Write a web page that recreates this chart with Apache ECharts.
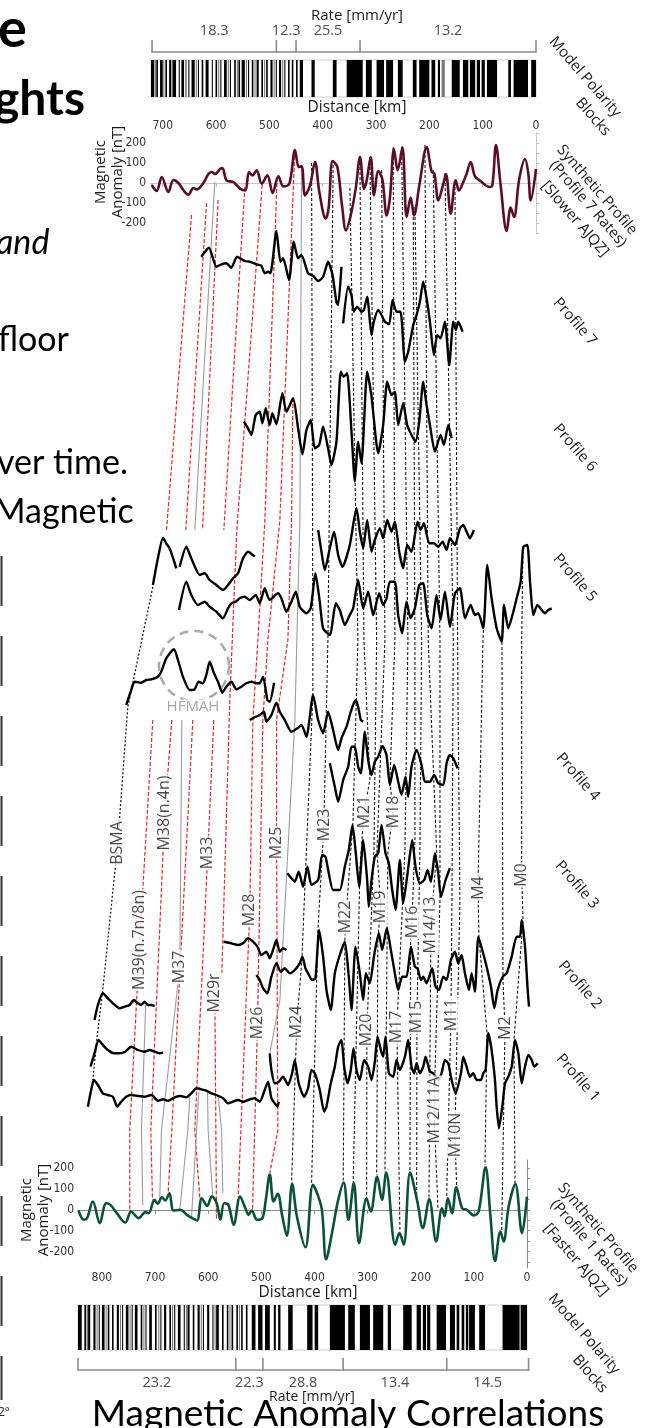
<!DOCTYPE html>
<html><head><meta charset="utf-8">
<script src="https://cdn.jsdelivr.net/npm/echarts@6/dist/echarts.min.js"></script>
<style>html,body{margin:0;padding:0;background:#fff}#c{width:646px;height:1428px}</style>
</head><body><div id="c"></div>
<script>
// ---------------- DATA ----------------
const anomalyTicks = [-200,-100,0,100,200];
const topRateBounds = [720, 487, 450, 330, 0];
const topRates = ['18.3','12.3','25.5','13.2'];
const bottomRateBounds = [845, 548, 497, 346, 151, -3];
const bottomRates = ['23.2','22.3','28.8','13.4','14.5'];

// polarity blocks [startKm, endKm, gray?]
const topBlocks = [[0,9,0],[15,42,0],[47,52,0],[73,92,0],[96,102,0],[105,111,0],[114,124,0],[127,137,0],[143,158,0],[171,177,1],[180,184,0],[189,196,0],[200,219,0],[224,231,0],[250,259,0],[268,281,0],[285,299,0],[308,319,0],[325,355,0],[374,381,0],[415,421,0],[437,443,0],[447,450,0]];
const topDense = [[716,722,0],[712,715,1],[709,712,0],[700,705,0],[697,699,1],[692,695,0],[684,688,0],[680,683,1],[675,681,0],[668,670,0],[660,665,0],[655,658,1],[650,652,0],[640,646,0],[636,638,1],[632,634,0],[624,627,0],[617,620,1],[614,619,0],[606,608,0],[598,601,0],[594,596,1],[590,592,0],[580,585,0],[576,578,1],[572,574,0],[563,566,0],[559,561,1],[555,558,0],[546,552,0],[542,544,1],[538,540,0],[530,533,0],[526,528,1],[520,524,0],[512,515,0],[508,510,1],[503,506,0],[494,498,0],[490,492,1],[486,488,0],[478,482,0],[474,476,1],[470,472,0],[462,465,0],[455,458,0]];
const bottomBlocks = [[0,12,0],[14,46,0],[79,90,0],[98,109,0],[110.5,115,0],[118,123,0],[127.5,132.4,0],[135.6,145,0],[152.5,170,0],[182,188,0],[190,196,0],[199.6,207.7,0],[217,233,0],[256,262,0],[270.6,289.5,0],[295.6,314.5,0],[324,336.5,0],[342.7,371,0],[393,399.6,0],[403.6,413.7,0],[441,449.5,0],[464,468.4,0],[472.7,476.5,0],[484,493,0],[497.8,506,0],[511,518,0]];
const bottomDense = [[838,845,0],[830,833,0],[826,829,1],[822,826,0],[812,816,0],[808,810,1],[804,806,0],[795,800,0],[791,793,1],[786,789,0],[778,781,0],[768,772,0],[764,766,1],[760,762,0],[750,755,0],[746,748,1],[742,744,0],[733,738,0],[724,727,0],[720,722,1],[716,718,0],[706,711,0],[697,700,0],[692,694,1],[688,690,0],[679,683,0],[670,673,0],[666,668,1],[662,664,0],[652,657,0],[644,646,0],[640,642,1],[635,639,0],[626,629,0],[616,620,0],[612,614,1],[608,610,0],[598,602,0],[590,592,0],[586,588,1],[580,585,0],[571,574,0],[562,565,0],[558,560,1],[553,556,0],[544,547,0],[540,542,1],[535,538,0],[526,529,0]];

// synthetic profiles [km, nT]
const synthTop = [[720.6,-10],[711.3,-40],[701.9,30],[689.4,-45],[680,15],[670.6,0],[660,-40],[651.9,-58],[642.5,-25],[636.3,-32],[623.8,0],[614.4,45],[608.1,55],[601.9,45],[592.5,70],[588.1,75],[580,12],[567.5,5],[555,-28],[545.6,-37],[538.1,55],[531.9,38],[523.8,63],[514.4,-3],[503.8,38],[493.8,-50],[483.1,33],[473.8,-17],[462.5,-3],[451.9,165],[445,80],[439.4,83],[433.1,-62],[423.8,-12],[414.4,105],[406.3,-45],[394.4,-178],[388.8,-123],[381.3,110],[372.5,80],[363.8,-112],[356.3,-237],[347.5,-162],[338.1,-28],[330,130],[322.5,-28],[317.5,13],[310,130],[303.8,-62],[295.6,60],[288.1,17],[280,-162],[273.8,-70],[266.3,170],[259.4,63],[250.6,178],[242.5,-170],[235,-73],[228.8,-162],[218.8,-12],[205,178],[195.6,55],[190.6,47],[183.1,-87],[173.8,-3],[168.8,45],[160,-153],[150.6,13],[144.4,-37],[136.3,5],[130,47],[122.5,105],[114.4,33],[103.8,10],[87.5,-20],[81.9,-12],[75,190],[66.3,-12],[55,-240],[47.5,-123],[41.3,-170],[31.3,22],[20.6,120],[14.4,47],[10,-87],[0,70]];
const synthBottom = [[844,-3],[834,-48],[828,-40],[817,40],[804,-64],[792,32],[784,24],[772,-16],[756,-61],[745,-8],[731,-40],[718,-11],[712,-16],[701,48],[695,29],[687,61],[681,45],[673,80],[665,-3],[652,0],[640,-24],[630,-40],[621,-51],[612,56],[602,19],[593,64],[584,32],[577,-48],[570,32],[562,24],[552,-72],[540,64],[530,8],[524,-24],[518,-3],[508,-48],[498,-40],[492,40],[484,170],[477,40],[469,77],[461,-24],[452,-125],[442,125],[433,-32],[417,-180],[403,120],[395,80],[386,0],[378,-238],[367,-112],[356,40],[345,132],[336,-48],[326,130],[316,-160],[302,56],[294,-8],[282,160],[273,48],[265,180],[248,-168],[240,-112],[232,-168],[220,180],[207,48],[196,-88],[184,51],[171,-152],[160,8],[155,-32],[149,56],[141,-16],[133,108],[122,8],[113,0],[100,-27],[91,-8],[78,205],[69,-24],[60,-246],[50,-104],[44,-152],[34.5,16],[22,124],[9.4,-112],[0,64]];

// observed profile traces in the stacked panel [km (lower distance scale), stack position]
const profile7a = [[613,256.7],[598.5,247.7],[584.7,266.7],[575,264.3],[565.8,263.3],[556.4,267.7],[545.7,256.7],[531.3,261],[521.9,261.7],[509.3,264.3],[499.9,265.7],[493.6,273.3],[487.3,271.7],[482.9,273.3],[471.6,231],[464.1,261.7],[459,258.3],[447.8,280],[439,241.7],[430.8,258.3],[424.5,255],[412,273.3],[402.5,275.7],[393,281],[383.7,276.7],[374.3,261.7],[366,275],[358.6,302.3],[355.4,305],[349.2,266.7]];
const profile7b = [[346,323.3],[336.6,286.7],[330.3,295],[326,311.7],[319.7,306.7],[311.5,311.7],[307,310],[300.8,296.7],[292.6,335],[288.3,321.7],[280,310],[273.8,315],[267.5,321.7],[259.4,324.3],[253,300],[245.5,311.7],[238,311.7],[229.8,361.7],[223.6,351.7],[214,325],[207.9,315],[201.6,301.7],[195.3,281.7],[189,298.3],[182.7,321.7],[175.2,355],[169,335],[162.7,338.3],[154.5,321.7],[146.3,365],[138.8,321.7],[133.8,330],[129.4,321.7],[121.2,331.7]];
const profile6 = [[533,421.7],[525,428.3],[518.7,435],[510.6,415],[503,411.7],[498,423.3],[491.7,408.3],[484.2,425],[479.2,413.3],[471.6,424.3],[460.3,393.3],[452.8,411.7],[440.2,398.3],[430.8,428.3],[422.6,454.3],[415.1,430],[407,420],[399.4,448.3],[391.2,445],[383.7,426.7],[374.3,448.3],[368,465],[358.6,441.7],[350.4,371.7],[344.8,376.7],[338.5,373.3],[330.3,431.7],[324,481.7],[317.8,441.7],[311.5,463.3],[300.8,371.7],[292.6,396.7],[280,453.3],[270.7,425],[263.1,381.7],[255,395],[248.7,391.7],[242.4,425],[233,403.3],[225.5,425],[217.3,435],[209.8,441.7],[202.8,421.7],[195.3,381.7],[189,405],[182.7,425],[173.3,451.7],[162.7,435],[156.4,445],[148.2,425],[141.9,438.3]];
const profile5a = [[393,530],[386.8,551.7],[380.6,570],[371.1,548.3],[363,531.7],[355.4,555],[347.3,566.7],[333.5,545],[320.9,508.3],[314.6,531.7],[308.3,548.3],[300.8,520],[292.6,551.7],[286.4,540],[277,528.3],[270.7,538.3],[263.1,520],[255,531.7],[248.7,521.7],[240.5,551.7],[233,568.3],[225.5,545],[217.3,551.7],[206,521.7],[200.3,530],[194,523.3],[184,543.3],[175.2,543.3],[167,546.7],[158.9,541.7],[151.3,550],[145,538.3],[135.6,545],[126.2,528.3],[120,525],[113.7,531.7],[107.4,538.3],[99.9,530]];
const profile5b1 = [[704,585],[694.6,558.3],[685,537.7],[679,543.3],[672.6,548.3],[660,568.3]];
const profile5b2 = [[653.7,566.7],[641.2,546.7],[631.8,558.3],[616,575],[606.6,573.3],[597.2,580],[584.7,585],[572.1,590],[562.7,585],[553.3,578.3],[543.8,573.3],[534.4,558.3],[525,551.7],[512.4,556.7]];
const profile5c = [[655,610],[641.2,581.7],[631.8,595],[619.2,605],[606.6,601.7],[597.2,606.7],[584.7,611.7],[572.1,618.3],[562.7,608.3],[556.4,603.3],[548.2,601.7],[540.7,598.3],[531.3,596.7],[521.9,600],[510.6,595],[503,603.3],[493.6,588.3],[484.2,600],[468.5,593.3],[462.2,598.3],[452.8,611.7],[443.4,601.7],[435.2,591.7],[427.7,606.7],[415.1,613.3],[407,608.3],[398.2,573.3],[390,601.7],[383.7,628.3],[371.1,635],[359.8,603.3],[352.3,610],[342.9,625],[333.5,615],[327.2,608.3],[317.8,580],[308.3,608.3],[298.9,591.7],[289.5,615],[278.2,593.3],[270.7,605],[264.4,598.3],[258.1,581.7],[248.7,581.7],[242.4,615],[234.9,633.3],[226.7,601.7],[219.2,618.3],[211,608.3],[202.8,585],[195.3,583.3],[187.8,615],[179.6,628.3],[170.2,595],[162.7,620],[154.5,591.7],[145,626.7],[135.6,593.3],[126.2,588.3],[116.8,618.3],[106.1,605],[98,615],[91.7,613.3],[82.3,628.3],[74.7,565],[66.6,598.3],[57.1,628.3],[47.7,641.7],[43.3,605],[35.2,628.3],[25.7,611.7],[19.5,598.3],[11.9,581.7],[6.9,546.7],[-0.6,545],[-5.7,581.7],[-11.9,615],[-19.5,605],[-27.6,610],[-33.9,613.3],[-40.2,610],[-46.5,608.3]];
const profile4a = [[754.2,705],[744.8,690],[738.5,681.7],[726,682.7],[716.5,680],[707.1,679.3],[695.8,677.3],[688.3,671.7],[678.9,658.3],[664.4,649.3],[656.9,660],[647.5,676.7],[634.9,690],[625.5,689.3],[618,681.7],[609.8,683.3],[603.5,675],[597.2,661.7],[589,673.3],[581.5,681.7],[573.4,692.7],[565.8,686.7],[556.4,681.7],[547,689.3],[537.6,686.7],[528.1,683.3],[518.7,681.7],[509.3,683.3],[503,683.3],[496.7,676.7],[488.6,700],[484.2,701.7],[476,682.7]];
const profile4b = [[521.9,720],[512.4,717.3],[503,715],[494.9,711.7],[490.5,721.7],[481,715],[471.6,702.7],[465.3,711.7],[455.9,720],[443.4,731.7],[432.1,728.3],[424.5,725],[415.1,736.7],[402.5,695],[393.1,720],[383.7,733.3],[374.3,711.7],[364.9,730],[355.4,750],[349.2,738.3],[339.7,726.7],[331.6,711.7],[322.8,700],[317.8,706.7],[312.7,720],[308.3,721.7]];
const profile4c = [[371.1,763.3],[361.7,786.7],[355.4,801.7],[346,780],[336.6,766.7],[330.3,746.7],[324,746.7],[317.8,766.7],[312.7,773.3],[305.2,731.7],[298.9,760],[292.6,775],[286.4,761.7],[280.1,756.7],[271.9,746],[264.4,755],[258.1,785],[250,765],[242.4,781.7],[236.1,795],[228.6,776.7],[223.6,796.7],[217.3,766.7],[207.9,750],[198.4,765],[192.2,781.7],[182.7,781.7],[174.6,775],[167,783.3],[157.6,785],[151.3,763.3],[145.1,755],[138.8,758.3],[130.6,768.3]];
const profile3 = [[450.9,873.3],[443.4,878.3],[437.1,881.7],[429.6,871.7],[421.4,886.7],[413.2,866.7],[405.7,885],[393.1,880],[385.6,855],[379.3,856.7],[373,873.3],[364.9,890],[352.3,890],[342.9,866.7],[335.4,850],[328.4,825],[322.2,853.3],[315.9,886.7],[308.3,840],[300.8,880],[297.7,906.7],[292.6,880],[286.4,856.7],[280.1,853.3],[273.8,825],[266.3,853.3],[260,863.3],[253.7,890],[247.4,910],[239.3,860],[233,903.3],[224.8,873.3],[216,840],[209.8,866.7],[201.6,883.3],[193.4,880],[187.1,870],[180.9,881.7],[173.3,853.3],[167,873.3],[162,896.7],[153.2,880],[145.1,868.3]];
const profile2a = [[570.9,941.7],[556.4,943.3],[543.8,945],[534.4,943.3],[525,938.3],[515.6,941.7],[507.4,946.7],[499.9,955],[490.5,951.7],[484.2,958.3],[477.9,950],[471.6,940],[465.3,951.7],[459.1,948.3],[452.8,950]];
const profile2b = [[509.3,975],[503,980],[496.7,988.3],[488.6,993.3],[481,976.7],[471.6,963.3],[463.5,971.7],[455.9,968.3],[446.5,973.3],[437.1,970],[427.7,963.3],[422.6,956.7],[417,968.3],[412,973.3],[404.4,980],[398.2,978.3],[391.2,930],[383.7,956.7],[377.4,990],[369.3,1010],[361.7,973.3],[352.3,955],[342.9,941.7],[335.4,976.7],[330.3,1010],[322.8,946.7],[314.6,973.3],[308.3,1000],[303.3,973.3],[295.8,983.3],[287.6,955],[278.8,933.3],[272.6,950],[263.8,928.3],[256.2,950],[248.7,973.3],[242.4,990],[234.9,976.7],[226.7,976.7],[218.5,946.7],[211,966.7],[206,968.3],[199.7,980],[195.3,976.7],[189,983.3],[178.4,968.3],[172.1,986.7],[165.8,990],[157.6,976.7],[151.3,980],[143.2,960],[135.6,951.7],[129.4,963.3],[123.1,955],[116.8,973.3],[109.3,990],[104.2,973.3],[98,991.7],[91.7,936.7],[84.2,950],[76,966.7],[67.8,986.7],[61.5,1008.3],[55.3,990],[45.8,976.7],[38.3,973.3],[28.9,956.7],[19.5,936.7],[13.2,936.7],[10,920],[3.8,946.7],[-1.3,990],[-3.8,1006.7]];
const profile1a = [[813.9,1020],[807.6,1005],[798.2,993.3],[788.8,998.3],[779.3,1003.3],[766.8,1008.3],[757.4,1006.7],[748,1005],[739.8,1000],[732.2,1003.3],[726,1005],[719.7,1001.7],[713.4,1005],[707.1,1005],[700.8,1006]];
const profile1b = [[821.4,1066.7],[813.9,1053.3],[806.4,1040],[798.2,1045],[788.8,1050],[777.5,1053.3],[766.8,1053.3],[756.1,1051.7],[744.8,1046.7],[732.2,1050],[719.7,1051.7],[710.3,1050],[700.8,1051.7],[691.4,1053.3],[685.1,1052.7]];
const profile1c = [[826.4,1106.7],[820.2,1090],[815.1,1080],[807.6,1085],[798.2,1093.3],[788.8,1095],[779.3,1096.7],[771.2,1106.7],[763.6,1101.7],[754.2,1096.7],[744.8,1095],[732.2,1096],[719.7,1096.7],[707.1,1095],[694.6,1100.7],[685.1,1099.3],[675.7,1100.7],[663.2,1097.3],[651.9,1096],[641.2,1097.3],[631.8,1093.3],[622.3,1088.3],[612.9,1089.3],[603.5,1090.7],[594.1,1093.3],[584.7,1095],[572.1,1098.3],[562.7,1103.3],[553.3,1101.7],[543.8,1100],[534.4,1101.7],[525,1100],[512.4,1098.3],[503,1101.7],[493.6,1090],[487.3,1081.7],[481,1098.3],[474.8,1103.3],[469.7,1106.7],[467.2,1101.7]];
const profile1d = [[484.2,1053.3],[481,1070],[474.8,1083.3],[467.2,1081.7],[459.1,1076.7],[449.6,1085],[442.1,1073.3],[437.1,1060],[429.6,1083.3],[419.5,1096.7],[412,1088.3],[405.7,1070],[399.4,1073.3],[390,1090],[381.8,1111.7],[377.4,1106.7],[369.3,1083.3],[361.7,1066.7],[355.4,1046.7],[349.2,1040],[344.1,1066.7],[337.9,1083.3],[331.6,1070],[326.6,1048.3],[320.9,1070],[314.6,1080],[306.5,1060],[298.9,1066.7],[292.6,1080],[286.4,1061.7],[281.3,1036.7],[275.1,1050],[270.7,1056.7],[266.3,1036.7],[260,1073.3],[251.8,1076.7],[245.5,1060],[239.3,1070],[229.8,1056.7],[223.6,1040],[217.3,1066.7],[212.3,1073.3],[207.9,1063.3],[201.6,1073.3],[195.3,1066.7],[190.9,1056.7],[182.7,1071.7],[176.5,1073.3],[167,1080],[160.8,1073.3],[154.5,1060],[148.2,1063.3],[141.9,1080],[134.4,1093.3],[124.3,1073.3],[119.9,1056.7],[113.7,1066.7],[107.4,1076.7],[101.1,1073.3],[94.8,1080],[86.7,1080],[82.3,1073.3],[77.9,1070],[72.8,1033.3],[66.6,1050],[60.3,1080],[57.1,1106.7],[52.8,1128.3],[46.5,1106.7],[41.4,1083.3],[35.2,1076.7],[28.9,1066.7],[22.6,1040],[16.3,1053.3],[10,1083.3],[3.8,1066.7],[-2.5,1055],[-8.8,1060],[-13.8,1066.7],[-20.1,1063.3]];

// correlation lines [km, stack position]
const blackCorr = [
 [[405.4,163],[403,640],[403,695],[423.7,960],[433.1,1022],[443.1,1183]],
 [[364.7,160],[374.7,640],[382.2,825],[393.5,930],[405.4,1183]],
 [[333.3,188],[318.2,640],[327.6,823],[340.8,917],[342.7,940],[345.9,1182]],
 [[314.5,157],[306.9,640],[295.6,780],[306.9,812],[314.5,870],[327.1,1182]],
 [[295.6,157],[283,640],[288.1,850],[301.3,1030],[301.8,1198]],
 [[273.6,170],[267.4,640],[282.5,852],[274.9,907],[280.6,937],[283,1175]],
 [[251.8,147],[248.6,640],[258,780],[252.3,812],[261.7,852],[267.4,1172]],
 [[235.9,147],[224.1,640],[229.7,850],[244.8,1027],[239.1,1232]],
 [[214.1,207],[210.9,640],[210.9,840],[216.5,922],[219,940],[220.3,1172]],
 [[210.9,207],[198.3,640],[201.5,850],[207.1,1017],[207.7,1200]],
 [[192.1,145],[185.9,640],[170,852],[180.8,925],[184.5,1199]],
 [[176.4,170],[163.8,640],[163.8,900],[175.1,1110],[167.6,1208]],
 [[154.4,173],[138.8,640],[141.2,900],[143.1,1015],[151.2,1198]],
 [[135.6,182],[129.9,700],[126.2,900],[135.6,1135],[132.4,1187]],
 [[75.3,565],[82.9,640],[92.3,888],[90.4,937],[75.3,1033],[79.1,1165]],
 [[47.1,642],[45.2,980],[41.4,1028],[47.6,1232]],
 [[7.5,546],[10,640],[10,875],[7.5,920],[24.5,1040],[22.6,1183]]
];
const redCorr = [
 [[631.4,215],[678.4,530]],
 [[603.1,203],[642.1,530]],
 [[581.3,200],[610.7,530]],
 [[531,187],[570.5,530]],
 [[498.4,185],[546.1,530],[559.3,700],[574.3,973],[587.5,993],[584.3,1220]],
 [[470.2,177],[493.3,520],[506.5,640],[515.9,720],[521.6,910],[543.6,1197]],
 [[436.9,150],[465.1,520],[487.7,640],[497.1,720],[507.1,1023],[516.5,1210]],
 [[440.6,398],[443.1,520],[450,640],[471.3,720],[471.3,843],[468.9,1130],[483.9,1173]],
 [[704.2,720],[728.7,940],[747.6,1130],[747.6,1212]],
 [[668.5,720],[681.6,813],[708,1130],[704.8,1200]],
 [[628.9,720],[668.5,1130],[675.4,1193]],
 [[589.4,720],[600.7,853],[625.2,1130],[615.7,1198]]
];
const grayCorr = [
 [[587.5,182],[625.2,530]],
 [[649.6,720],[653.4,967],[687.9,1130],[691.1,1198]],
 [[424.2,165],[427.4,520],[436.9,720],[465.1,1000],[483.9,1053]],
 [[717.4,1002],[725.5,1130],[723.1,1205]],
 [[634.6,1097],[638.3,1130],[653.4,1210]],
 [[601.2,1093],[600.1,1130],[591.3,1197]],
 [[581.3,1095],[574.9,1130],[572.4,1193]],
 [[617.6,1092],[631.4,1218]]
];
const bsmaCorr = [[704.2,587],[751.3,707],[770.2,843],[798.4,990],[809.7,1040],[817.2,1080]];

const anomalyLabels = [['BSMA',770.2,843],['M39(n.7n/8n)',728.7,940],['M38(n.4n)',681.6,813],['M37',653.4,967],['M33',600.7,853],['M29r',587.5,993],['M28',521.6,910],['M26',507.1,1023],['M25',471.3,843],['M24',433.1,1022],['M23',381.7,825],['M22',341.4,917],['M21',306.4,812],['M20',301.8,1030],['M19',274.9,907],['M18',251.8,812],['M17',245.4,1027],['M16',216,922],['M15',207.7,1017],['M14/13',180.8,925],['M12/11A',175.1,1110],['M11',143.1,1015],['M10N',135.6,1135],['M4',91.7,888],['M2',41.4,1028],['M0',10,875]];

const profileNames = ['Profile 7','Profile 6','Profile 5','Profile 4','Profile 3','Profile 2','Profile 1'];

// ---------------- LAYOUT / STYLE ----------------
const W = 646, H = 1428;
const botLeft = 78, botRight = 527, botMax = 845;
const pxPerKm = (botRight - botLeft) / botMax;
const ovMax = botRight / pxPerKm, ovMin = ovMax - W / pxPerKm;
const FONT = '"Open Sans","Noto Sans",sans-serif';
const NARROW = '"Liberation Sans Narrow","DejaVu Sans Condensed","Roboto",sans-serif';

function blockItem(params, api) {
  const a = api.coord([api.value(0), 1]);
  const b = api.coord([api.value(1), 0]);
  const x = Math.min(a[0], b[0]);
  const w = Math.max(Math.abs(b[0] - a[0]), 0.9);
  return {type: 'rect', shape: {x: x, y: a[1], width: w, height: b[1] - a[1]},
          style: {fill: api.value(2) ? '#7a7a7a' : '#000'}};
}
function bracketItem(params, api) {
  const k = api.value(0);
  const p0 = api.coord([k, 0]), p1 = api.coord([k, 1]);
  const children = [{type: 'line', shape: {x1: p0[0], y1: p0[1] + 1, x2: p1[0], y2: p1[1]}, style: {stroke: '#8c8c8c', lineWidth: 1.6}}];
  if (params.dataIndex === 0) {
    const e = api.coord([api.value(1), 0]);
    children.push({type: 'line', shape: {x1: p0[0], y1: p0[1], x2: e[0], y2: e[1]}, style: {stroke: '#8c8c8c', lineWidth: 1.6}});
  }
  return {type: 'group', children: children};
}
function bracketData(b) { return b.map(v => [v, b[b.length - 1]]); }
function midLabels(b, names) { return names.map((n, i) => ({value: [(b[i] + b[i + 1]) / 2, 1], name: n})); }

const series = [];
[[0, topRateBounds, topRates], [6, bottomRateBounds, bottomRates]].forEach(([g, b, r]) => {
  series.push({type: 'custom', xAxisIndex: g, yAxisIndex: g, renderItem: bracketItem, data: bracketData(b), encode: {x: 0}, silent: true});
  series.push({type: 'scatter', xAxisIndex: g, yAxisIndex: g, symbolSize: 1, itemStyle: {color: 'rgba(0,0,0,0)'},
    data: midLabels(b, r), label: {show: true, position: g === 0 ? 'top' : 'bottom', distance: g === 0 ? 1 : 17, formatter: p => p.name, fontSize: 14.5, color: '#222', fontFamily: FONT}});
});
[[1, topBlocks.concat(topDense)], [5, bottomBlocks.concat(bottomDense)]].forEach(([g, d]) => {
  series.push({type: 'custom', xAxisIndex: g, yAxisIndex: g, renderItem: blockItem, data: d, encode: {x: [0, 1]}, silent: true});
});
series.push({type: 'line', xAxisIndex: 2, yAxisIndex: 2, data: synthTop, smooth: 0.35, showSymbol: false, lineStyle: {color: '#5b0d27', width: 2.6}, z: 4});
series.push({type: 'line', xAxisIndex: 4, yAxisIndex: 4, data: synthBottom, smooth: 0.35, showSymbol: false, lineStyle: {color: '#0a5236', width: 2.6}, z: 4});
function corr(d, style) { series.push({type: 'line', xAxisIndex: 3, yAxisIndex: 3, data: d, showSymbol: false, lineStyle: style, z: 2, silent: true}); }
redCorr.forEach(d => corr(d, {color: '#e3242b', width: 1.2, type: [4, 2]}));
grayCorr.forEach(d => corr(d, {color: '#9c9c9c', width: 1.1}));
blackCorr.forEach(d => corr(d, {color: '#1a1a1a', width: 1.1, type: [3, 2]}));
corr(bsmaCorr, {color: '#1a1a1a', width: 1.3, type: [2, 2]});
[profile7a, profile7b, profile6, profile5a, profile5b1, profile5b2, profile5c, profile4a, profile4b, profile4c, profile3, profile2a, profile2b, profile1a, profile1b, profile1c, profile1d]
  .forEach(d => series.push({type: 'line', xAxisIndex: 3, yAxisIndex: 3, data: d, smooth: 0.2, showSymbol: false, lineStyle: {color: '#000', width: 2.4}, z: 3}));
series.push({type: 'scatter', xAxisIndex: 3, yAxisIndex: 3, symbolSize: 1, itemStyle: {color: 'rgba(0,0,0,0)'}, z: 6,
  data: anomalyLabels.map(a => ({value: [a[1], a[2]], name: a[0]})),
  label: {show: true, position: 'inside', rotate: 90, formatter: p => p.name, fontSize: 16, color: '#1a1a1a', fontFamily: FONT, backgroundColor: '#fff', padding: [0, 1]}});

const hidden = {show: false};
const tickLbl = {fontSize: 12, color: '#333', fontFamily: NARROW};
const option = {
  animation: false,
  backgroundColor: '#fff',
  grid: [
    {left: 151, right: 110, top: 40, height: 12},
    {left: 151, right: 110, top: 60, height: 37, show: true, borderColor: '#d0d0d0', borderWidth: 1},
    {left: 151, right: 110, top: 133, height: 100},
    {left: 0, right: 0, top: 0, bottom: 0},
    {left: botLeft, right: W - botRight, top: 1160, height: 108},
    {left: botLeft, right: W - botRight, top: 1305, height: 45, show: true, borderColor: '#d0d0d0', borderWidth: 1},
    {left: botLeft, right: W - botRight, top: 1358, height: 12}
  ],
  xAxis: [
    {gridIndex: 0, type: 'value', min: 0, max: 722, inverse: true, show: false},
    {gridIndex: 1, type: 'value', min: 0, max: 722, inverse: true, show: false},
    {gridIndex: 2, type: 'value', min: 0, max: 722, inverse: true, position: 'top', interval: 100,
      axisLine: {lineStyle: {color: '#c8c8c8'}}, axisTick: {inside: true, length: 4, lineStyle: {color: '#bbb'}},
      minorTick: {show: true, splitNumber: 2, length: 2, lineStyle: {color: '#ccc'}},
      axisLabel: Object.assign({margin: 1, showMaxLabel: false}, tickLbl), splitLine: hidden},
    {gridIndex: 3, type: 'value', min: ovMin, max: ovMax, inverse: true, show: false},
    {gridIndex: 4, type: 'value', min: 0, max: botMax, inverse: true, position: 'bottom', interval: 100,
      axisLine: {lineStyle: {color: '#8a8a8a'}}, axisTick: {inside: false, length: 4, lineStyle: {color: '#8a8a8a'}},
      axisLabel: Object.assign({margin: 4, showMaxLabel: false}, tickLbl), splitLine: hidden},
    {gridIndex: 5, type: 'value', min: 0, max: botMax, inverse: true, show: false},
    {gridIndex: 6, type: 'value', min: 0, max: botMax, inverse: true, show: false}
  ],
  yAxis: [
    {gridIndex: 0, type: 'value', min: 0, max: 1, show: false},
    {gridIndex: 1, type: 'value', min: 0, max: 1, show: false},
    {gridIndex: 2, type: 'value', min: -250, max: 250,
      axisLine: {show: true, lineStyle: {color: '#c8c8c8'}},
      axisTick: {show: true, inside: true, length: 3, customValues: [-250,-200,-150,-100,-50,0,50,100,150,200,250], lineStyle: {color: '#bbb'}},
      axisLabel: Object.assign({customValues: anomalyTicks, margin: 5}, tickLbl), splitLine: hidden},
    {gridIndex: 3, type: 'value', min: 0, max: H, inverse: true, show: false},
    {gridIndex: 4, type: 'value', min: -280, max: 240,
      axisLine: {show: true, lineStyle: {color: '#8a8a8a'}},
      axisTick: {show: true, inside: true, length: 3, customValues: [-250,-200,-150,-100,-50,0,50,100,150,200], lineStyle: {color: '#999'}},
      axisLabel: Object.assign({customValues: anomalyTicks, margin: 4}, tickLbl), splitLine: hidden},
    {gridIndex: 5, type: 'value', min: 0, max: 1, show: false},
    {gridIndex: 6, type: 'value', min: 0, max: 1, show: false}
  ],
  series: series,
  graphic: []
};

const G = option.graphic;
function txt(text, x, y, font, extra) {
  G.push(Object.assign({type: 'text', x: x, y: y, silent: true,
    style: Object.assign({text: text, font: font, fill: '#1a1a1a', textAlign: 'center', textVerticalAlign: 'middle'}, (extra && extra.style) || {})},
    extra && extra.el || {}));
}
const rot = -49 * Math.PI / 180;
const F15 = '15px ' + FONT;
const L = {style: {textAlign: 'left', fill: '#000'}};
txt('e', -2, 30, 'bold 54px Lato, sans-serif', L);
txt('ghts', -6, 100, 'bold 48px Lato, sans-serif', L);
txt('and', -4, 243, 'italic 34px Lato, sans-serif', L);
txt('floor', -2, 340, '34px Lato, sans-serif', L);
txt('ver time.', -3, 463, '34px Lato, sans-serif', L);
txt('Magnetic', -6, 512, '34px Lato, sans-serif', L);
txt('2°', -2, 1413, '12px ' + FONT, {style: {textAlign: 'left'}});
G.push({type: 'line', silent: true, shape: {x1: 1.5, y1: 556, x2: 1.5, y2: 1400}, style: {stroke: '#333', lineWidth: 2, lineDash: [50, 30]}});
txt('Rate [mm/yr]', 357, 16, F15);
txt('Distance [km]', 357, 108, '15.5px ' + FONT);
txt('Distance [km]', 308, 1293, '15.5px ' + FONT);
txt('Rate [mm/yr]', 312, 1397, '14px ' + FONT);
txt('Magnetic\nAnomaly [nT]', 109, 172, F15, {el: {rotation: Math.PI / 2}, style: {lineHeight: 17}});
txt('Magnetic\nAnomaly [nT]', 35, 1210, F15, {el: {rotation: Math.PI / 2}, style: {lineHeight: 17}});
txt('Model Polarity', 585, 77, F15, {el: {rotation: rot}});
txt('Blocks', 593, 117, F15, {el: {rotation: rot}});
txt('Synthetic Profile', 597, 190, F15, {el: {rotation: rot}});
txt('(Profile 7 Rates)', 588, 204, F15, {el: {rotation: rot}});
txt('[Slower AJQZ]', 575, 219, F15, {el: {rotation: rot}});
const profLabelPos = [[575,322],[575,448],[575,578],[578,777],[577,885],[580,985],[578,1078]];
profileNames.forEach((n, i) => txt(n, profLabelPos[i][0], profLabelPos[i][1], F15, {el: {rotation: rot}}));
txt('Synthetic Profile', 598, 1228, F15, {el: {rotation: rot}});
txt('(Profile 1 Rates)', 589, 1243, F15, {el: {rotation: rot}});
txt('[Faster AJQZ]', 576, 1260, F15, {el: {rotation: rot}});
txt('Model Polarity', 584, 1334, F15, {el: {rotation: rot}});
txt('Blocks', 590, 1374, F15, {el: {rotation: rot}});
G.push({type: 'circle', silent: true, shape: {cx: 194, cy: 666, r: 35}, style: {fill: 'none', stroke: '#aaaaaa', lineWidth: 2.5, lineDash: [9, 6]}, z: 1});
txt('HFMAH', 193, 707, F15, {style: {fill: '#a8a8a8', backgroundColor: '#fff', padding: [0, 2]}, el: {z: 10}});
txt('Magnetic Anomaly Correlations', 348, 1414, '37px Lato, sans-serif', {style: {fill: '#000'}});

const chart = echarts.init(document.getElementById('c'), null, {renderer: 'canvas', width: W, height: H});
chart.setOption(option);
</script></body></html>
